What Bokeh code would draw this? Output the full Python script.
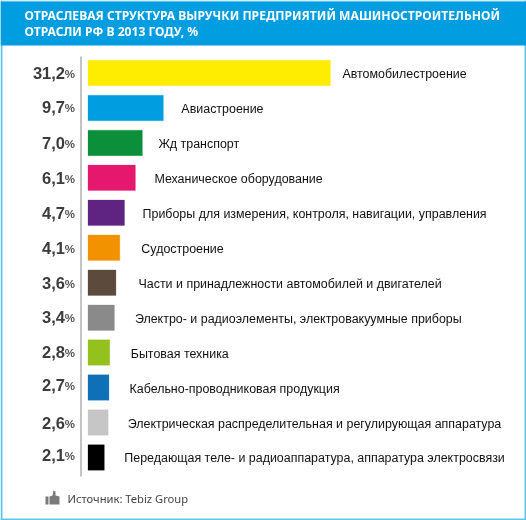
from bokeh.plotting import figure
from bokeh.models import ColumnDataSource, Range1d, Label, BoxAnnotation, PolyAnnotation
from bokeh.core.properties import value
from bokeh.embed import file_html
from bokeh.resources import INLINE

categories = ["Автомобилестроение", "Авиастроение", "Жд транспорт", "Механическое оборудование",
              "Приборы для измерения, контроля, навигации, управления", "Судостроение",
              "Части и принадлежности автомобилей и двигателей",
              "Электро- и радиоэлементы, электровакуумные приборы", "Бытовая техника",
              "Кабельно-проводниковая продукция", "Электрическая распределительная и регулирующая аппаратура",
              "Передающая теле- и радиоаппаратура, аппаратура электросвязи"]
values = [31.2, 9.7, 7.0, 6.1, 4.7, 4.1, 3.6, 3.4, 2.8, 2.7, 2.6, 2.1]
value_labels = ["31,2", "9,7", "7,0", "6,1", "4,7", "4,1", "3,6", "3,4", "2,8", "2,7", "2,6", "2,1"]
colors = ["#FFED00", "#009EE0", "#0B8F3A", "#E6186E", "#5F2382", "#F39200", "#5C4A3D", "#8A8A8A",
          "#95C11F", "#0F70B7", "#C6C6C6", "#000000"]
label_gaps = [12, 18, 16, 19, 18, 21.5, 22.5, 20.5, 21, 20.5, 19.5, 20]
value_dy = [0, -1, 0, 0, 0, 0, 0, -1, -1, -3, 0, -2]
title_lines = ["ОТРАСЛЕВАЯ СТРУКТУРА ВЫРУЧКИ ПРЕДПРИЯТИЙ МАШИНОСТРОИТЕЛЬНОЙ", "ОТРАСЛИ РФ В 2013 ГОДУ, %"]
source_text = "Источник: Tebiz Group"

W, H = 526, 520
PX = 7.77      # pixels per percent
X0 = 87.5      # screen x of zero
ROW = 34.95    # row pitch
Y0 = 72.5      # screen y (from top) of first row

p = figure(width=W, height=H, output_backend="svg", toolbar_location=None, min_border=0,
           x_range=Range1d(-X0 / PX, (W - X0) / PX),
           y_range=Range1d((H - Y0) / ROW, -Y0 / ROW),
           x_axis_location=None, y_axis_location=None,
           styles={"position": "fixed", "left": "0", "top": "0"})
p.grid.visible = False
p.outline_line_color = None
p.background_fill_color = "white"
p.border_fill_color = "white"

rows = list(range(len(values)))
src = ColumnDataSource(dict(y=rows, v=values, c=colors, cat=categories, lab=value_labels, gap=label_gaps,
                            dy=value_dy, dy2=[d + 1 for d in value_dy], pct=["%"] * len(values)))


def box(l, r, b, t, color):
    p.add_layout(BoxAnnotation(left=l, right=r, bottom=b, top=t, left_units="screen", right_units="screen",
                               bottom_units="screen", top_units="screen", fill_color=color, fill_alpha=1,
                               line_color=None))


# frame and header
for (l, r, b, t) in [(0, 2, 0, H), (W - 2, W, 0, H), (0, W, 0, 2)]:
    box(l, r, b, t, "#5CC6F2")
box(0, W, H - 45, H - 1, "#009EE0")
box(0, W, H - 1, H, "#4DB8E8")

# axis line
box(80, 81, H - 476, H - 56, "#8A8A8A")

p.hbar(y="y", left=0, right="v", height=25.5 / ROW, fill_color="c", line_color="c", line_alpha=0.25,
       line_width=1, source=src)

p.text(x="v", y="y", text="cat", x_offset="gap", y_offset=1, text_font=value("Liberation Sans"),
       text_font_size="12.45px", text_color="#111111", text_baseline="middle", text_align="left", source=src)
p.text(x=0, y="y", text="lab", x_offset=-23, y_offset="dy", text_font=value("Liberation Sans"),
       text_font_style="bold", text_font_size="16.5px", text_color="#3c3c3c", text_baseline="middle",
       text_align="right", source=src)
p.text(x=0, y="y", text="pct", x_offset=-13, y_offset="dy2", text_font=value("Liberation Sans"),
       text_font_style="bold", text_font_size="11.5px", text_color="#555555", text_baseline="middle",
       text_align="right", source=src)

for i, line in enumerate(title_lines):
    p.add_layout(Label(x=24, y=H - 15 - 15.5 * i, x_units="screen", y_units="screen", text=line,
                       text_font="Noto Sans", text_font_style="bold", text_font_size="12.1px",
                       text_color="white", text_baseline="middle"))

p.add_layout(Label(x=67, y=H - 498, x_units="screen", y_units="screen", text=source_text,
                   text_font="Noto Sans", text_font_size="11.2px", text_color="#444444", text_baseline="middle"))

# thumb icon
box(45, 48, H - 504, H - 496, "#7a7a7a")
p.add_layout(PolyAnnotation(xs=[49, 49, 52, 53, 53, 55, 55, 59, 59, 57],
                            ys=[H - 504, H - 496, H - 495, H - 490, H - 490, H - 491, H - 495, H - 496, H - 504, H - 504],
                            xs_units="screen", ys_units="screen", fill_color="#7a7a7a", fill_alpha=1, line_color=None))

open("out.html", "w").write(file_html(p, INLINE))
